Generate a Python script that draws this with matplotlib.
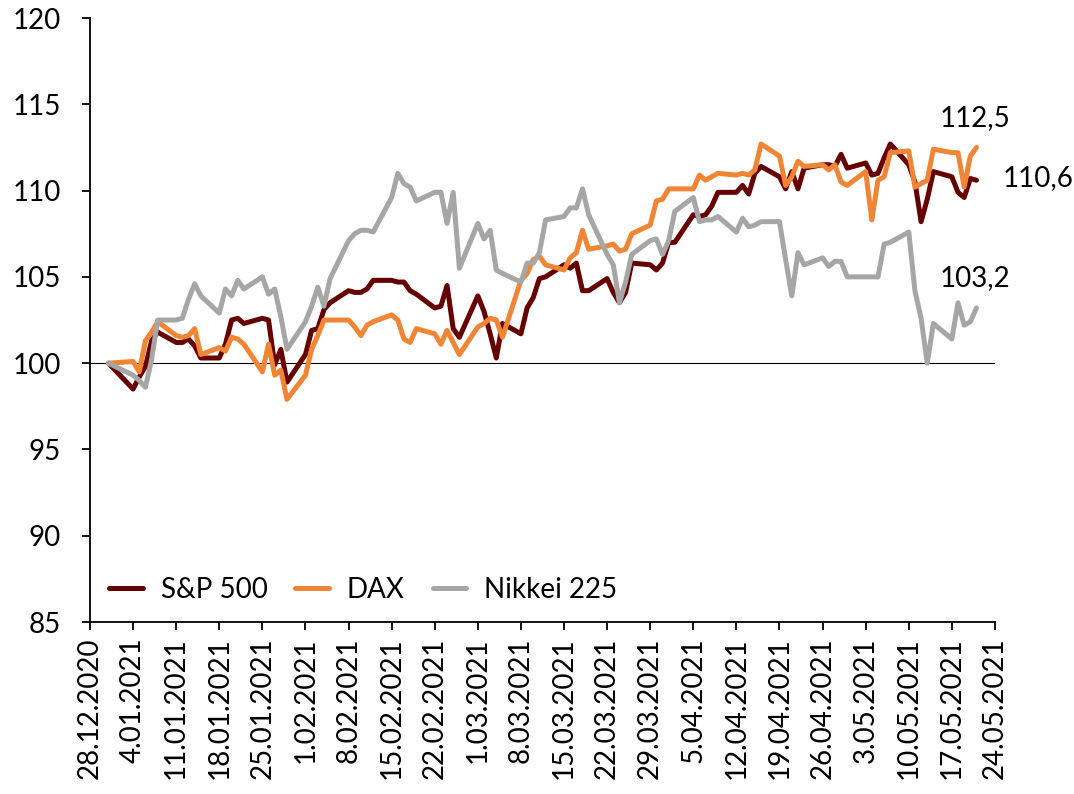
import matplotlib
matplotlib.use("Agg")
import matplotlib.pyplot as plt
import matplotlib.dates as mdates
import pandas as pd

plt.rcParams["font.family"] = ["Lato", "DejaVu Sans"]

# trading days 31.12.2020 - 21.05.2021 (1.01 left out, all markets closed)
dates = pd.bdate_range("2020-12-31", "2021-05-21").drop(pd.Timestamp("2021-01-01"))

# index values, 100 = end of 2020
sp500 = [100.0,
         98.5, 99.2, 99.8, 101.3, 101.8, 101.2, 101.2, 101.4, 101.0, 100.3,
         100.3, 101.1, 102.5, 102.6, 102.3, 102.6, 102.5, 99.9, 100.8, 98.9,
         100.5, 101.9, 102.0, 103.1, 103.5, 104.2, 104.1, 104.1, 104.3, 104.8,
         104.8, 104.7, 104.7, 104.2, 104.0, 103.2, 103.3, 104.5, 102.0, 101.5,
         103.9, 103.0, 101.7, 100.3, 102.3, 101.7, 103.2, 103.8, 104.9, 105.0,
         105.7, 105.5, 105.8, 104.2, 104.2, 104.9, 104.1, 103.5, 104.1, 105.8,
         105.7, 105.4, 105.8,
         107.0, 107.0, 108.6, 108.5, 108.6, 109.1, 109.9, 109.9, 110.3, 109.8,
         111.0, 111.4, 110.8, 110.1, 111.1, 110.1, 111.3, 111.5, 111.5, 111.4,
         112.1, 111.3,
         111.6, 110.9, 111.0, 111.9, 112.7, 111.5, 110.5, 108.2, 109.5, 111.1,
         110.8, 109.9, 109.6, 110.7, 110.6]
dax = [100.0,
       100.1, 99.5, 101.3, 101.8, 102.4, 101.6, 101.5, 101.6, 102.0, 100.5,
       100.9, 100.7, 101.5, 101.4, 101.1, 99.5, 101.1, 99.3, 99.6, 97.9,
       99.3, 100.8, 101.6, 102.5, 102.5, 102.5, 102.1, 101.6, 102.2, 102.4,
       102.8, 102.5, 101.4, 101.2, 102.0, 101.7, 101.1, 101.9, 101.2, 100.5,
       102.1, 102.3, 102.6, 102.5, 101.5, 104.8, 105.2, 106.0, 106.2, 105.7,
       105.4, 106.1, 106.4, 107.7, 106.6, 106.8, 106.9, 106.5, 106.6, 107.5,
       108.0, 109.4, 109.5,
       110.1, 110.1, 110.1, 110.9, 110.6, 110.8, 111.0, 110.9, 111.0, 110.9,
       111.2, 112.7, 112.0, 110.3, 110.8, 111.7, 111.4, 111.5, 111.2, 111.5,
       110.5, 110.3,
       111.1, 108.3, 110.6, 110.8, 112.2, 112.3, 110.2, 110.4, 110.6, 112.4,
       112.2, 112.2, 110.2, 112.0, 112.5]
nikkei = [100.0,
          99.3, 99.0, 98.6, 100.2, 102.5, 102.5, 102.6, 103.7, 104.6, 103.9,
          102.9, 104.3, 103.9, 104.8, 104.3, 105.0, 104.0, 104.3, 102.7, 100.8,
          102.4, 103.3, 104.4, 103.3, 104.9, 107.1, 107.5, 107.7, 107.7, 107.6,
          109.6, 111.0, 110.4, 110.2, 109.4, 109.9, 109.9, 108.1, 109.9, 105.5,
          108.1, 107.2, 107.7, 105.4, 105.2, 104.7, 105.8, 105.8, 106.4, 108.3,
          108.5, 109.0, 109.0, 110.1, 108.6, 106.3, 105.7, 103.5, 104.7, 106.3,
          107.1, 107.2, 106.3,
          107.1, 108.8, 109.6, 108.2, 108.3, 108.3, 108.5, 107.6, 108.4, 107.9,
          108.0, 108.2, 108.2, 106.0, 103.9, 106.4, 105.7, 106.1, 105.6, 105.9,
          105.9, 105.0,
          105.0, 105.0, 105.0, 106.9, 107.0, 107.6, 104.2, 102.6, 100.0, 102.3,
          101.4, 103.5, 102.2, 102.4, 103.2]

names = ["S&P 500", "DAX", "Nikkei 225"]
colors = ["#660000", "#EF8535", "#A6A6A6"]
end_labels = ["110,6", "112,5", "103,2"]

fig = plt.figure(figsize=(10.74, 7.94), dpi=100)
ax = fig.add_axes([0.0838, 0.2166, 0.8426, 0.7607])

ax.axhline(100, color="black", lw=0.8, zorder=1)
for series, name, color in zip([sp500, dax, nikkei], names, colors):
    ax.plot(dates, series, color=color, lw=3.6, label=name,
            solid_joinstyle="round", solid_capstyle="round", zorder=2)

ax.set_ylim(85, 120)
ax.set_yticks(range(85, 121, 5))
ax.set_xlim(pd.Timestamp("2020-12-28"), pd.Timestamp("2021-05-24"))
ax.set_xticks(pd.date_range("2020-12-28", "2021-05-24", freq="7D"))
ax.xaxis.set_major_formatter(plt.FuncFormatter(
    lambda v, _: "{0.day}.{0.month:02d}.{0.year}".format(mdates.num2date(v))))

ax.tick_params(axis="x", labelsize=20, rotation=90, direction="out",
               length=6, width=1.3, pad=5)
ax.tick_params(axis="y", labelsize=20, direction="out", length=6,
               width=1.3, pad=15)
for side in ["top", "right"]:
    ax.spines[side].set_visible(False)
for side in ["left", "bottom"]:
    ax.spines[side].set_linewidth(1.3)

# end values
ax.text(0.978, 0.834, end_labels[1], transform=ax.transAxes, fontsize=20,
        ha="center", va="center")
ax.text(1.009, 0.735, end_labels[0], transform=ax.transAxes, fontsize=20,
        ha="left", va="center")
ax.text(0.978, 0.5695, end_labels[2], transform=ax.transAxes, fontsize=20,
        ha="center", va="center")

leg = ax.legend(loc="lower left", ncol=3, frameon=False, fontsize=20,
                handlelength=1.2, handletextpad=0.65, columnspacing=1.0,
                borderaxespad=0.3, bbox_to_anchor=(0.0, 0.0))
for line in leg.get_lines():
    line.set_solid_capstyle("round")

fig.savefig("out.png", dpi=100)
